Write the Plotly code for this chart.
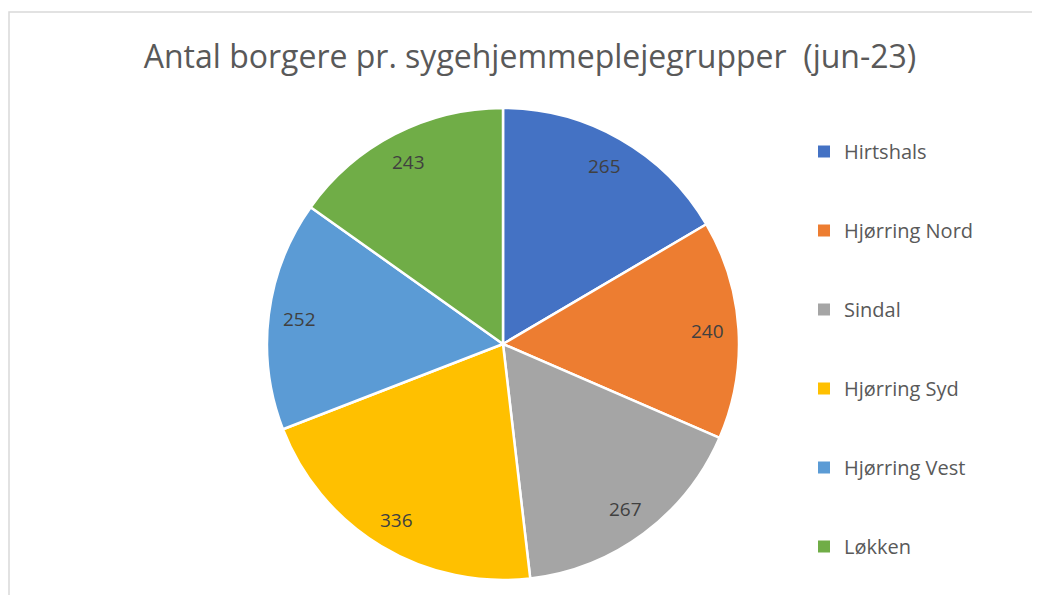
import math
import plotly.graph_objects as go

categories = ["Hirtshals", "Hjørring Nord", "Sindal", "Hjørring Syd", "Hjørring Vest", "Løkken"]
values = [265, 240, 267, 336, 252, 243]
colors = ["#4472C4", "#ED7D31", "#A5A5A5", "#FFC000", "#5B9BD5", "#70AD47"]
title = "Antal borgere pr. sygehjemmeplejegrupper  (jun-23)"

W, H = 1040, 595
off = 8  # page body margin
cx, cy, r = 503 - off, 344 - off, 236
label_frac = 0.87

fig = go.Figure()
fig.add_trace(go.Pie(
    labels=categories, values=values, sort=False, direction="clockwise", rotation=0,
    marker=dict(colors=colors, line=dict(color="white", width=2.5)),
    textinfo="none",
    showlegend=False,
    domain=dict(x=[(cx - r) / W, (cx + r) / W], y=[1 - (cy + r) / H, 1 - (cy - r) / H]),
    hoverinfo="label+value",
))
for i, (c, col) in enumerate(zip(categories, colors)):
    fig.add_trace(go.Scatter(
        x=[None], y=[None], mode="markers", name=c, legendgroup=str(i),
        marker=dict(symbol="square", size=10, color=col), showlegend=True,
    ))

total = sum(values)
annotations = []
cum = 0
for v in values:
    th = 2 * math.pi * (cum + v / 2) / total
    cum += v
    px = cx + label_frac * r * math.sin(th)
    py = cy - label_frac * r * math.cos(th)
    annotations.append(dict(x=px / W, y=1 - py / H, xref="paper", yref="paper", text=str(v),
                            showarrow=False, xanchor="center", yanchor="middle",
                            font=dict(size=19, color="#404040", family="Open Sans")))

fig.update_layout(
    width=W, height=H, margin=dict(l=0, r=0, t=0, b=0),
    paper_bgcolor="white", plot_bgcolor="white",
    xaxis=dict(visible=False), yaxis=dict(visible=False),
    title=dict(text=title, x=(530 - off) / W, xanchor="center", y=1 - (57 - off) / H, yanchor="middle",
               font=dict(size=32, color="#595959", family="Open Sans")),
    legend=dict(x=(804 - off) / W, y=1 - (132 - off) / H, xanchor="left", yanchor="top",
                font=dict(size=20, color="#595959", family="Open Sans"),
                tracegroupgap=50, itemsizing="constant", bgcolor="rgba(0,0,0,0)"),
    annotations=annotations,
    shapes=[dict(type="rect", xref="paper", yref="paper", x0=(9 - off) / W, x1=1.05, y0=-0.05,
                 y1=1 - (12 - off) / H,
                 line=dict(color="#D9D9D9", width=1.5), fillcolor="rgba(0,0,0,0)", layer="below")],
)
fig.write_html("out.html")
